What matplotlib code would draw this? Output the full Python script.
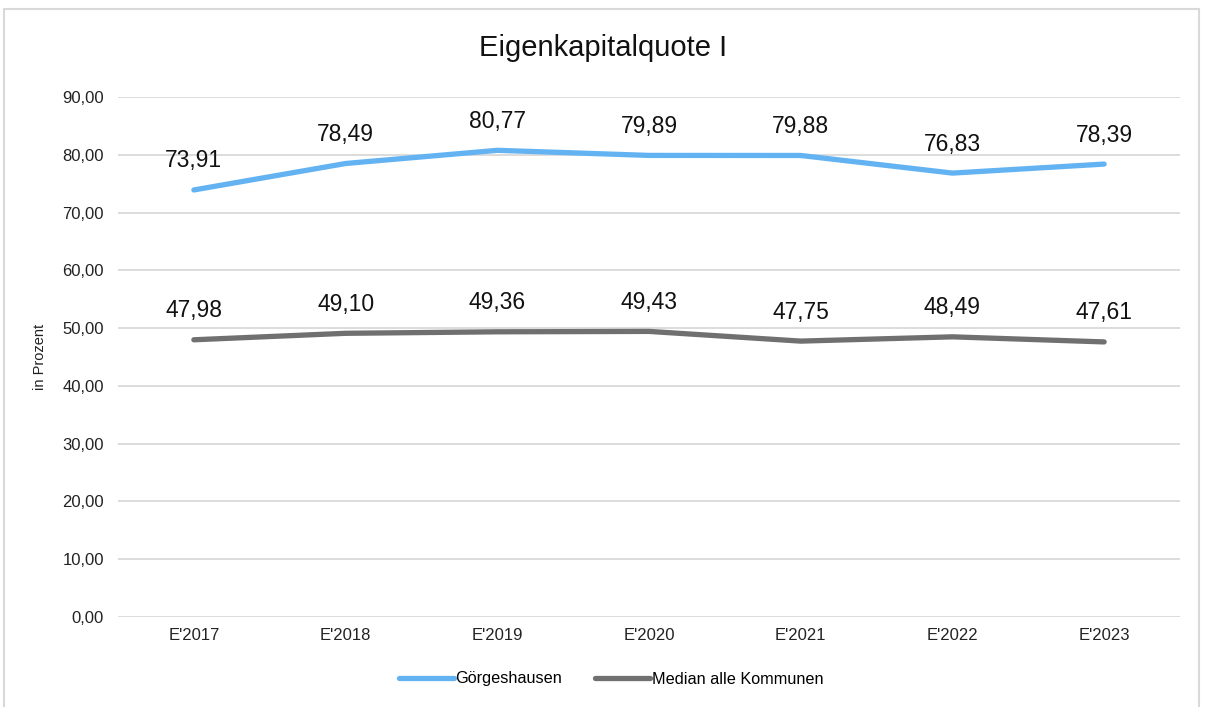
import matplotlib.pyplot as plt
from matplotlib.patches import Rectangle

plt.rcParams['font.family'] = ['Liberation Sans', 'DejaVu Sans']

years = ["E'2017", "E'2018", "E'2019", "E'2020", "E'2021", "E'2022", "E'2023"]
goergeshausen = [73.91, 78.49, 80.77, 79.89, 79.88, 76.83, 78.39]
median_alle = [47.98, 49.10, 49.36, 49.43, 47.75, 48.49, 47.61]


def de(v):
    return f"{v:.2f}".replace(".", ",")


fig = plt.figure(figsize=(12.07, 7.07), dpi=100)
fig.patches.append(Rectangle((4 / 1207, -0.01), 1195 / 1207, 1 - 9 / 707 + 0.01,
                             transform=fig.transFigure, fill=False,
                             edgecolor='#D9D9D9', linewidth=1.5))
ax = fig.add_axes([118 / 1207, 1 - 617 / 707, 1062 / 1207, 520 / 707])

x = list(range(len(years)))
ax.plot(x, goergeshausen, color='#63B3F2', linewidth=3.8, solid_capstyle='round',
        label='Görgeshausen', zorder=3)
ax.plot(x, median_alle, color='#707070', linewidth=3.8, solid_capstyle='round',
        label='Median alle Kommunen', zorder=3)

for series in (goergeshausen, median_alle):
    for xi, v in zip(x, series):
        ax.annotate(de(v), (xi, v), xytext=(0, 29), textcoords='offset pixels',
                    ha='center', va='center', fontsize=16.5, color='#111111')

ax.set_xlim(-0.5, len(years) - 0.5)
ax.set_ylim(0, 90)
ax.set_yticks(range(0, 91, 10))
ax.set_yticklabels([de(v) for v in range(0, 91, 10)])
ax.set_xticks(x)
ax.set_xticklabels(years)
ax.tick_params(length=0, labelsize=12, colors='#222222')
ax.tick_params(axis='x', pad=8)
ax.tick_params(axis='y', pad=10)
ax.grid(axis='y', color='#D9D9D9', linewidth=1.3)
ax.set_axisbelow(True)
for s in ax.spines.values():
    s.set_visible(False)

ax.set_ylabel('in Prozent', fontsize=10.5, color='#222222')
ax.yaxis.set_label_coords((47 - 118) / 1062, 0.5)
fig.text(0.5, 1 - 48 / 707, 'Eigenkapitalquote I', ha='center', va='center',
         fontsize=21, color='#111111')

fig.legend(loc='center', bbox_to_anchor=(611 / 1207, 1 - 679 / 707), ncol=2, frameon=False,
           fontsize=11.7, handlelength=3.4, handletextpad=0.1, columnspacing=2.0)

fig.savefig('out.png', dpi=100)
